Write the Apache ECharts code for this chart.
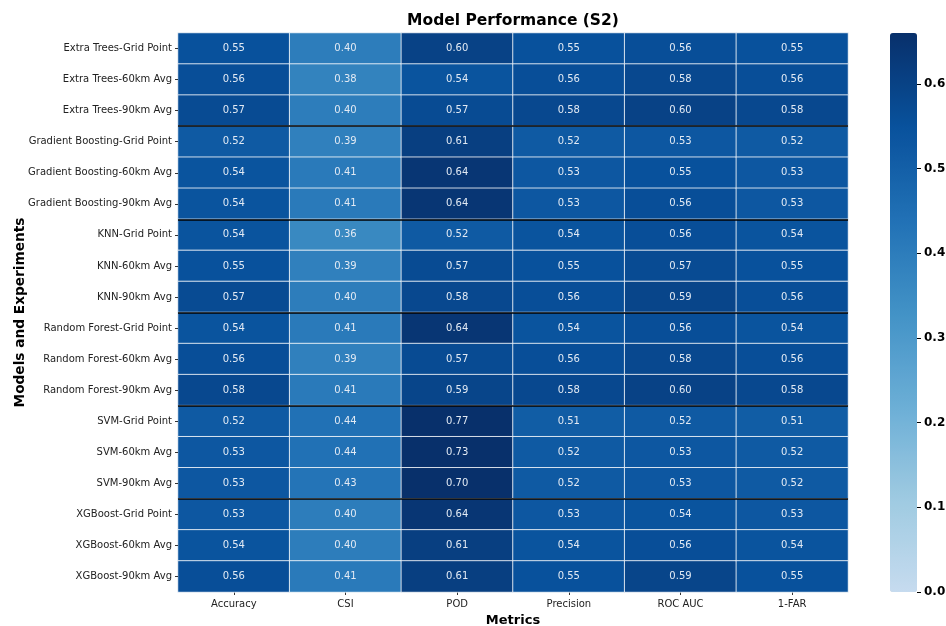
<!DOCTYPE html>
<html>
<head>
<meta charset="utf-8">
<title>Model Performance (S2)</title>
<script src="https://cdn.jsdelivr.net/npm/echarts@6/dist/echarts.min.js"></script>
<style>
  html, body { margin: 0; padding: 0; background: #fff; }
  #chart { width: 946px; height: 626px; }
</style>
</head>
<body>
<div id="chart"></div>
<script>
// rows (top to bottom) and metric columns
const models = [
  'Extra Trees-Grid Point', 'Extra Trees-60km Avg', 'Extra Trees-90km Avg',
  'Gradient Boosting-Grid Point', 'Gradient Boosting-60km Avg', 'Gradient Boosting-90km Avg',
  'KNN-Grid Point', 'KNN-60km Avg', 'KNN-90km Avg',
  'Random Forest-Grid Point', 'Random Forest-60km Avg', 'Random Forest-90km Avg',
  'SVM-Grid Point', 'SVM-60km Avg', 'SVM-90km Avg',
  'XGBoost-Grid Point', 'XGBoost-60km Avg', 'XGBoost-90km Avg'
]
const metrics = ['Accuracy', 'CSI', 'POD', 'Precision', 'ROC AUC', '1-FAR']

// one array per metric, same order as models
const accuracy  = [0.55, 0.56, 0.57, 0.52, 0.54, 0.54, 0.54, 0.55, 0.57, 0.54, 0.56, 0.58, 0.52, 0.53, 0.53, 0.53, 0.54, 0.56]
const csi       = [0.40, 0.38, 0.40, 0.39, 0.41, 0.41, 0.36, 0.39, 0.40, 0.41, 0.39, 0.41, 0.44, 0.44, 0.43, 0.40, 0.40, 0.41]
const pod       = [0.60, 0.54, 0.57, 0.61, 0.64, 0.64, 0.52, 0.57, 0.58, 0.64, 0.57, 0.59, 0.77, 0.73, 0.70, 0.64, 0.61, 0.61]
const precision = [0.55, 0.56, 0.58, 0.52, 0.53, 0.53, 0.54, 0.55, 0.56, 0.54, 0.56, 0.58, 0.51, 0.52, 0.52, 0.53, 0.54, 0.55]
const rocAuc    = [0.56, 0.58, 0.60, 0.53, 0.55, 0.56, 0.56, 0.57, 0.59, 0.56, 0.58, 0.60, 0.52, 0.53, 0.53, 0.54, 0.56, 0.59]
const oneMinusFar = [0.55, 0.56, 0.58, 0.52, 0.53, 0.53, 0.54, 0.55, 0.56, 0.54, 0.56, 0.58, 0.51, 0.52, 0.52, 0.53, 0.54, 0.55]

const colorbarTicks = [0, 0.1, 0.2, 0.3, 0.4, 0.5, 0.6]
const colorMin = 0
const colorMax = 0.66

const columns = [accuracy, csi, pod, precision, rocAuc, oneMinusFar]
const cells = []
columns.forEach((col, x) => {
  col.forEach((v, y) => cells.push([x, y, v]))
})

const chart = echarts.init(document.getElementById('chart'))
const font = 'DejaVu Sans'

chart.setOption({
  animation: false,
  textStyle: { fontFamily: font },
  title: {
    text: 'Model Performance (S2)',
    left: 513,
    top: 13,
    padding: 0,
    textAlign: 'center',
    textStyle: { fontFamily: font, fontSize: 15.5, fontWeight: 'bold', color: '#000' }
  },
  grid: [
    { left: 178, top: 33, width: 670, height: 559, outerBoundsMode: 'none', containLabel: false },
    { left: 890, top: 33, width: 27, height: 559, outerBoundsMode: 'none', containLabel: false }
  ],
  xAxis: [
    {
      type: 'category',
      data: metrics,
      gridIndex: 0,
      name: 'Metrics',
      nameLocation: 'middle',
      nameGap: 21,
      nameTextStyle: { fontFamily: font, fontSize: 13, fontWeight: 'bold', color: '#000' },
      axisLine: { show: false },
      axisTick: { show: true, alignWithLabel: true, length: 3, lineStyle: { color: '#333' } },
      axisLabel: { fontFamily: font, fontSize: 10, color: '#222', margin: 7 },
      splitLine: { show: false }
    },
    { type: 'value', gridIndex: 1, show: false, min: 0, max: 1 }
  ],
  yAxis: [
    {
      type: 'category',
      data: models,
      gridIndex: 0,
      inverse: true,
      z: 10,
      name: 'Models and Experiments',
      nameLocation: 'middle',
      nameMoveOverlap: false,
      nameGap: 151,
      nameRotate: 90,
      nameTextStyle: { fontFamily: font, fontSize: 13.7, fontWeight: 'bold', color: '#000' },
      axisLine: { show: false },
      axisTick: { show: true, alignWithLabel: true, length: 3, lineStyle: { color: '#333' } },
      axisLabel: { fontFamily: font, fontSize: 10, color: '#222', margin: 6 },
      splitLine: {
        show: true,
        showMaxLine: false,
        interval: (idx) => idx > 0 && idx % 3 === 0,
        lineStyle: { color: '#000', width: 1.5 }
      }
    },
    {
      type: 'value',
      gridIndex: 1,
      position: 'right',
      min: colorMin,
      max: colorMax,
      z: 10,
      axisLine: { show: false, onZero: false },
      splitLine: { show: false },
      axisTick: { show: true, inside: false, customValues: colorbarTicks, length: 4, lineStyle: { color: '#000', width: 1 } },
      axisLabel: {
        customValues: colorbarTicks,
        formatter: (v) => v.toFixed(1),
        fontFamily: font, fontSize: 12, fontWeight: 'bold', color: '#000', margin: 7
      }
    }
  ],
  visualMap: {
    type: 'continuous',
    seriesIndex: 0,
    min: colorMin,
    max: colorMax,
    calculable: false,
    hoverLink: false,
    orient: 'vertical',
    left: 890,
    top: 33,
    padding: 0,
    itemWidth: 27,
    itemHeight: 559,
    text: null,
    inRange: { color: ['#c6dbef', '#9ecae1', '#6baed6', '#4292c6', '#2171b5', '#08519c', '#08306b'] }
  },
  series: [{
    type: 'heatmap',
    xAxisIndex: 0,
    yAxisIndex: 0,
    data: cells,
    itemStyle: { borderColor: '#ffffff', borderWidth: 0.8 },
    label: {
      show: true,
      formatter: (p) => p.value[2].toFixed(2),
      fontFamily: font,
      fontSize: 10,
      color: '#e2eaf4'
    }
  }]
})
</script>
</body>
</html>
